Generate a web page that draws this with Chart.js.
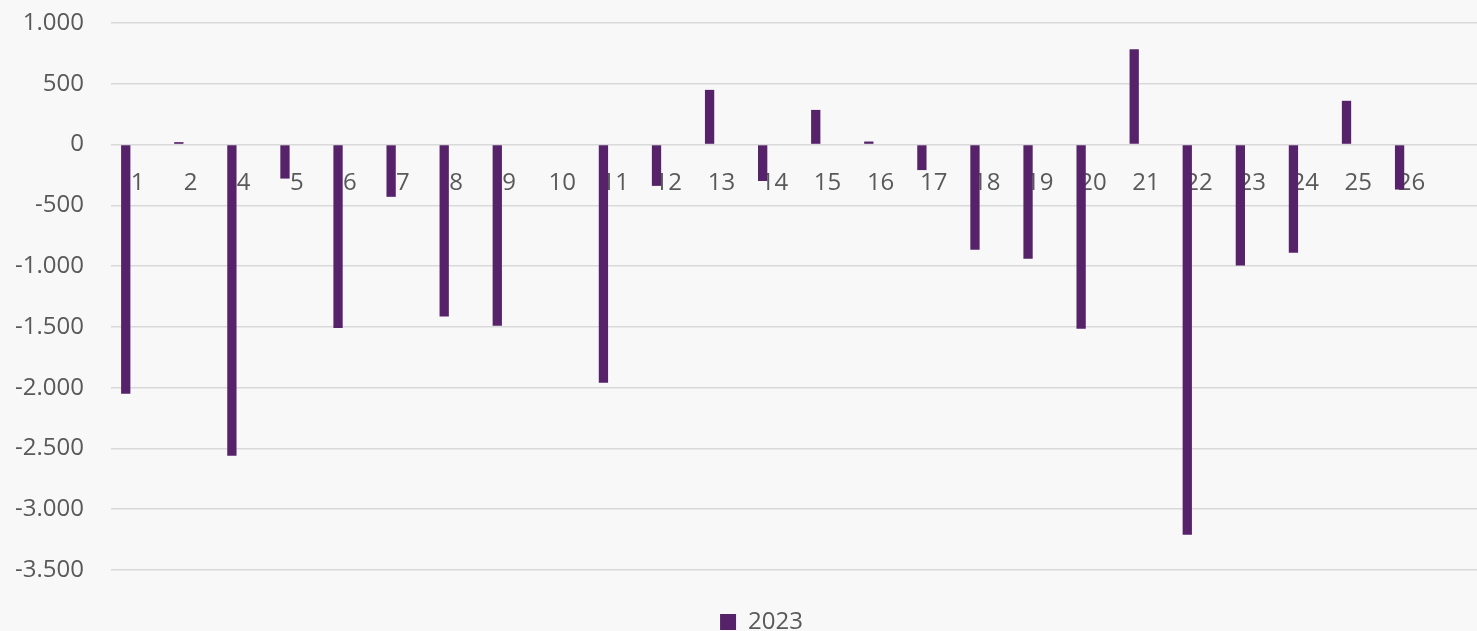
<!DOCTYPE html>
<html>
<head>
<meta charset="utf-8">
<script src="https://cdn.jsdelivr.net/npm/chart.js@4/dist/chart.umd.min.js"></script>
<style>
    html, body {
        margin: 0;
        padding: 0;
        background: #f8f8f8;
        overflow: hidden;
    }
    #wrap {
        width: 1491px;
        height: 644px;
    }
</style>
</head>
<body>
<div id="wrap"><canvas id="barChart" width="1491" height="644"></canvas></div>
<script>
// Category labels (there is no "3"; the last slot is an empty category)
const categories = ['1', '2', '4', '5', '6', '7', '8', '9', '10', '11', '12', '13', '14',
    '15', '16', '17', '18', '19', '20', '21', '22', '23', '24', '25', '26', ''];

// Values for 2023
const values2023 = [-2050, 20, -2560, -280, -1510, -430, -1415, -1490, 0, -1960, -340, 450, -300,
    285, 25, -210, -865, -940, -1515, 785, -3210, -995, -890, 360, -370, null];

// Empty companion series (keeps the 2023 bars on the left side of each slot)
const valuesEmpty = categories.map(() => null);

// Y axis range and step
const yMin = -3500;
const yMax = 1000;
const yStep = 500;

const textColor = '#595959';
const gridColor = '#d9d9d9';
const barColor = '#56236b';

function formatTick(v) {
    // thousands with a dot, like 1.000 / -3.500
    const sign = v < 0 ? '-' : '';
    const abs = Math.abs(v);
    return sign + abs.toString().replace(/\B(?=(\d{3})+(?!\d))/g, '.');
}

// Nudge the legend a bit to the right, where the original has it
const legendShift = {
    id: 'legendShift',
    afterLayout(chart) {
        if (chart.legend) {
            chart.legend.left += 16;
            chart.legend.right += 16;
        }
    }
};

function initializeChart() {
    const ctx = document.getElementById('barChart').getContext('2d');
    new Chart(ctx, {
        type: 'bar',
        data: {
            labels: categories,
            datasets: [{
                label: '2023',
                data: values2023,
                backgroundColor: barColor,
                borderWidth: 0,
                categoryPercentage: 0.889,
                barPercentage: 0.394
            }, {
                label: '',
                data: valuesEmpty,
                backgroundColor: 'rgba(0,0,0,0)',
                categoryPercentage: 0.889,
                barPercentage: 0.394
            }]
        },
        options: {
            responsive: false,
            animation: false,
            devicePixelRatio: 1,
            layout: {
                padding: { left: 0, top: 23, right: 0, bottom: 0 }
            },
            plugins: {
                legend: {
                    display: true,
                    position: 'bottom',
                    labels: {
                        filter: item => item.datasetIndex === 0,
                        boxWidth: 16,
                        boxHeight: 16,
                        padding: 40,
                        color: textColor,
                        font: { family: 'Open Sans', size: 24 }
                    }
                },
                tooltip: { enabled: false }
            },
            scales: {
                x: {
                    position: { y: 0 },
                    z: 1,
                    grid: {
                        display: false,
                        drawTicks: true,
                        tickLength: 21
                    },
                    border: { display: false },
                    ticks: {
                        color: textColor,
                        padding: 3,
                        maxRotation: 0,
                        autoSkip: false,
                        font: { family: 'Open Sans', size: 24 }
                    }
                },
                y: {
                    min: yMin,
                    max: yMax,
                    border: { display: false },
                    grid: {
                        color: gridColor,
                        lineWidth: 1.5,
                        drawTicks: true,
                        tickLength: 24,
                        tickColor: 'rgba(0,0,0,0)'
                    },
                    ticks: {
                        stepSize: yStep,
                        color: textColor,
                        padding: 3,
                        font: { family: 'Open Sans', size: 24 },
                        callback: value => formatTick(value)
                    },
                    afterFit: scale => { scale.width = 111; }
                }
            }
        },
        plugins: [legendShift]
    });
}

initializeChart();
</script>
</body>
</html>
